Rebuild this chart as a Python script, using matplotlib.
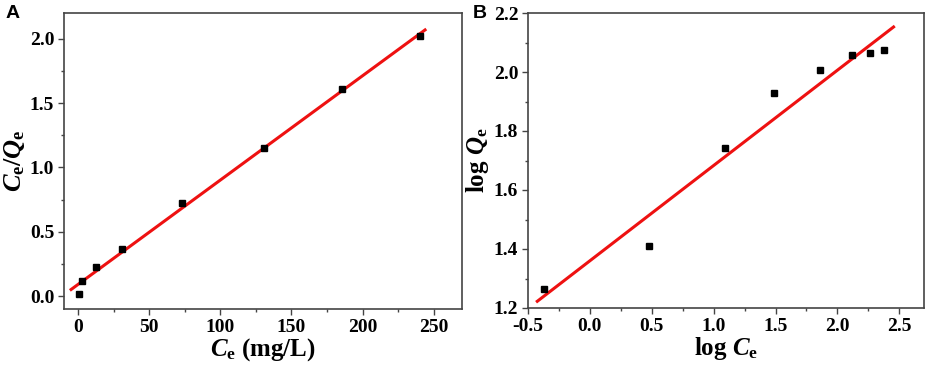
import matplotlib
matplotlib.use('Agg')
import matplotlib.pyplot as plt
import numpy as np
from matplotlib.ticker import MultipleLocator

plt.rcParams['font.family'] = 'Liberation Serif'
plt.rcParams['font.weight'] = 'bold'
plt.rcParams['axes.unicode_minus'] = False
plt.rcParams['mathtext.fontset'] = 'custom'
plt.rcParams['mathtext.rm'] = 'Liberation Serif:bold'
plt.rcParams['mathtext.it'] = 'Liberation Serif:bold:italic'
plt.rcParams['mathtext.bf'] = 'Liberation Serif:bold'

# A: Langmuir
ce_a = [0.5, 2.6, 12.2, 31.0, 72.8, 131.0, 185.7, 240.6]
ceqe_a = [0.02, 0.116, 0.227, 0.366, 0.723, 1.152, 1.607, 2.02]
fit_a = [0.092, 0.0081]   # intercept, slope
fit_a_range = [-5, 244]

# B: Freundlich
logce_b = [-0.374, 0.477, 1.093, 1.488, 1.859, 2.115, 2.266, 2.379]
logqe_b = [1.263, 1.409, 1.743, 1.929, 2.006, 2.056, 2.063, 2.076]
fit_b = [1.360, 0.323]
fit_b_range = [-0.425, 2.454]

fig = plt.figure(figsize=(9.27, 3.67), dpi=100)
ax1 = fig.add_axes([64/927, 1-309/367, 398/927, 296/367])
ax2 = fig.add_axes([528/927, 1-308/367, 396/927, 295/367])

def style(ax):
    for s in ax.spines.values():
        s.set_color('#444444')
        s.set_linewidth(1.2)
    ax.tick_params(which='both', direction='out', top=False, right=False,
                   color='#444444', labelsize=14, pad=3)
    ax.tick_params(which='major', length=4, width=1)
    ax.tick_params(which='minor', length=2.5, width=1)
    for t in ax.get_xticklabels() + ax.get_yticklabels():
        t.set_fontweight('bold')

xa = np.array(fit_a_range)
ax1.plot(xa, fit_a[0] + fit_a[1]*xa, color='#ee1111', lw=2.2, zorder=2)
ax1.plot(ce_a, ceqe_a, 's', color='black', ms=5, zorder=3)
ax1.set_xlim(-10, 270)
ax1.set_ylim(-0.1, 2.2)
ax1.xaxis.set_major_locator(MultipleLocator(50))
ax1.xaxis.set_minor_locator(MultipleLocator(25))
ax1.yaxis.set_major_locator(MultipleLocator(0.5))
ax1.yaxis.set_minor_locator(MultipleLocator(0.25))
style(ax1)
ax1.set_xlabel(r'$C_{\rm e}$' + ' (mg/L)', fontsize=18, fontweight='bold', labelpad=0)
ax1.set_ylabel(r'$C_{\rm e}/Q_{\rm e}$', fontsize=19, fontweight='bold', labelpad=2)

xb = np.array(fit_b_range)
ax2.plot(xb, fit_b[0] + fit_b[1]*xb, color='#ee1111', lw=2.2, zorder=2)
ax2.plot(logce_b, logqe_b, 's', color='black', ms=5, zorder=3)
ax2.set_xlim(-0.5, 2.7)
ax2.set_ylim(1.2, 2.2)
ax2.xaxis.set_major_locator(MultipleLocator(0.5))
ax2.xaxis.set_minor_locator(MultipleLocator(0.25))
ax2.yaxis.set_major_locator(MultipleLocator(0.2))
ax2.yaxis.set_minor_locator(MultipleLocator(0.1))
style(ax2)
ax2.set_xlabel(r'log $C_{\rm e}$', fontsize=18, fontweight='bold', labelpad=0)
ax2.set_ylabel(r'log $Q_{\rm e}$', fontsize=18, fontweight='bold', labelpad=2)

fig.text(6/927, 1-14/367, 'A', family='Liberation Sans', fontweight='bold', fontsize=14, va='center')
fig.text(473/927, 1-14/367, 'B', family='Liberation Sans', fontweight='bold', fontsize=14, va='center')

fig.savefig('out.png', dpi=100)
